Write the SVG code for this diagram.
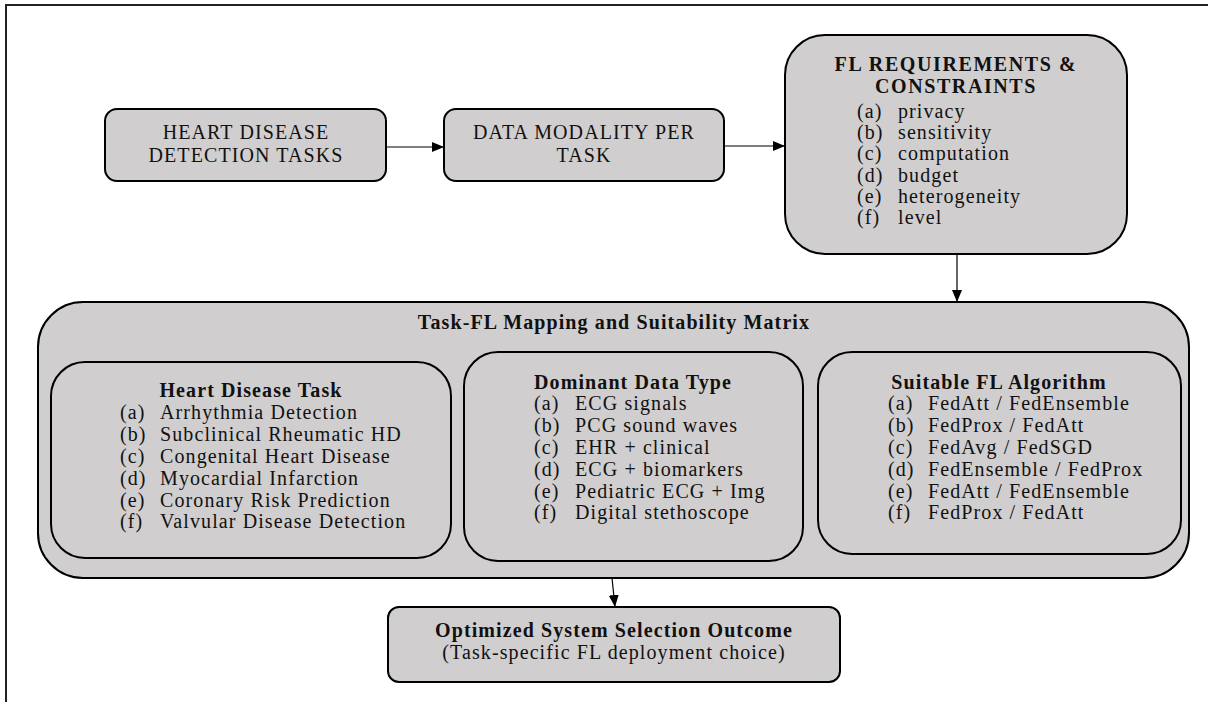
<svg xmlns="http://www.w3.org/2000/svg" width="1208" height="702" viewBox="0 0 1208 702">
<defs>
<style>
.box{fill:#d0cece;stroke:#000;stroke-width:2}
.t{font-family:"Liberation Serif","Times New Roman",serif;font-size:20px;letter-spacing:1.1px;fill:#111}
.b{font-weight:bold}
.m{text-anchor:middle}
.conn{stroke:#000;stroke-width:1.2;fill:none;marker-end:url(#ah)}
.frame{stroke:#222;stroke-width:2;fill:none}
</style>
<marker id="ah" viewBox="0 0 12 10" markerWidth="12" markerHeight="10" refX="12" refY="5" orient="auto" markerUnits="userSpaceOnUse">
<path d="M0,0 L12,5 L0,10 z" fill="#000"/>
</marker>
</defs>
<rect width="1208" height="702" fill="#fff"/>
<path class="frame" d="M6,702 L6,5 L1208,5"/>

<g id="n-tasks">
<rect class="box" x="105" y="109" width="281" height="72" rx="12"/>
<text class="t m" x="246" y="139">HEART DISEASE</text>
<text class="t m" x="246" y="162">DETECTION TASKS</text>
</g>

<g id="n-modality">
<rect class="box" x="444" y="109" width="280" height="72" rx="12"/>
<text class="t m" x="584" y="139">DATA MODALITY PER</text>
<text class="t m" x="584" y="162">TASK</text>
</g>

<g id="n-requirements">
<rect class="box" x="785" y="35" width="342" height="219" rx="40"/>
<text class="t b m" x="956" y="71" style="letter-spacing:1.6px">FL REQUIREMENTS &amp;</text>
<text class="t b m" x="956" y="93" style="letter-spacing:1.6px">CONSTRAINTS</text>
<text class="t" x="857" y="118">(a)</text><text class="t" x="898" y="118">privacy</text>
<text class="t" x="857" y="139">(b)</text><text class="t" x="898" y="139">sensitivity</text>
<text class="t" x="857" y="160">(c)</text><text class="t" x="898" y="160">computation</text>
<text class="t" x="857" y="182">(d)</text><text class="t" x="898" y="182">budget</text>
<text class="t" x="857" y="203">(e)</text><text class="t" x="898" y="203">heterogeneity</text>
<text class="t" x="857" y="224">(f)</text><text class="t" x="898" y="224">level</text>
</g>

<g id="n-matrix">
<rect class="box" x="38" y="302" width="1151" height="276" rx="45"/>
<text class="t b m" x="614" y="329">Task-FL Mapping and Suitability Matrix</text>
</g>

<g id="n-task-col">
<rect class="box" x="51" y="362" width="400" height="196" rx="34"/>
<text class="t b m" x="251" y="397">Heart Disease Task</text>
<text class="t" x="120" y="419">(a)</text><text class="t" x="160" y="419">Arrhythmia Detection</text>
<text class="t" x="120" y="441">(b)</text><text class="t" x="160" y="441">Subclinical Rheumatic HD</text>
<text class="t" x="120" y="463">(c)</text><text class="t" x="160" y="463">Congenital Heart Disease</text>
<text class="t" x="120" y="485">(d)</text><text class="t" x="160" y="485">Myocardial Infarction</text>
<text class="t" x="120" y="507">(e)</text><text class="t" x="160" y="507">Coronary Risk Prediction</text>
<text class="t" x="120" y="528">(f)</text><text class="t" x="160" y="528">Valvular Disease Detection</text>
</g>

<g id="n-data-col">
<rect class="box" x="464" y="352" width="339" height="209" rx="34"/>
<text class="t b m" x="633" y="389">Dominant Data Type</text>
<text class="t" x="534" y="410">(a)</text><text class="t" x="575" y="410">ECG signals</text>
<text class="t" x="534" y="432">(b)</text><text class="t" x="575" y="432">PCG sound waves</text>
<text class="t" x="534" y="454">(c)</text><text class="t" x="575" y="454">EHR + clinical</text>
<text class="t" x="534" y="476">(d)</text><text class="t" x="575" y="476">ECG + biomarkers</text>
<text class="t" x="534" y="498">(e)</text><text class="t" x="575" y="498">Pediatric ECG + Img</text>
<text class="t" x="534" y="519">(f)</text><text class="t" x="575" y="519">Digital stethoscope</text>
</g>

<g id="n-algo-col">
<rect class="box" x="818" y="352" width="363" height="202" rx="34"/>
<text class="t b m" x="999" y="389">Suitable FL Algorithm</text>
<text class="t" x="888" y="410">(a)</text><text class="t" x="928" y="410">FedAtt / FedEnsemble</text>
<text class="t" x="888" y="432">(b)</text><text class="t" x="928" y="432">FedProx / FedAtt</text>
<text class="t" x="888" y="454">(c)</text><text class="t" x="928" y="454">FedAvg / FedSGD</text>
<text class="t" x="888" y="476">(d)</text><text class="t" x="928" y="476">FedEnsemble / FedProx</text>
<text class="t" x="888" y="498">(e)</text><text class="t" x="928" y="498">FedAtt / FedEnsemble</text>
<text class="t" x="888" y="519">(f)</text><text class="t" x="928" y="519">FedProx / FedAtt</text>
</g>

<g id="n-outcome">
<rect class="box" x="388" y="607" width="452" height="75" rx="11"/>
<text class="t b m" x="614" y="637">Optimized System Selection Outcome</text>
<text class="t m" x="614" y="659">(Task-specific FL deployment choice)</text>
</g>

<g id="connectors">
<path class="conn" d="M386,147 L444,147"/>
<path class="conn" d="M724,146 L785,146"/>
<path class="conn" d="M957,254 L957,302"/>
<path class="conn" d="M612,578 L615,607"/>
</g>
</svg>
